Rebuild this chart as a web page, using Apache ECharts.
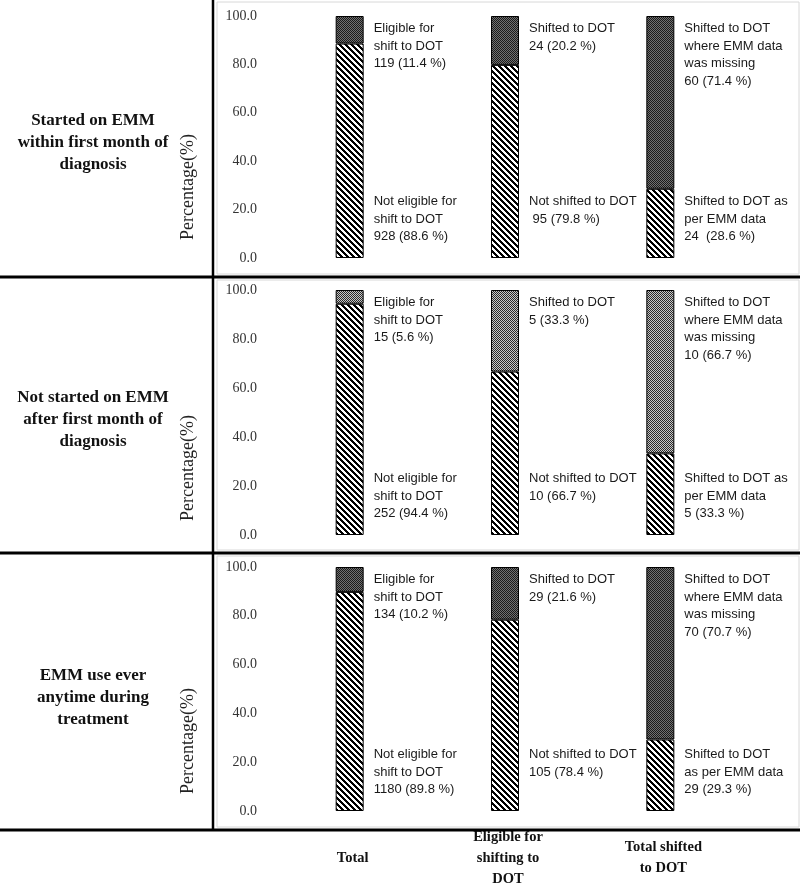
<!DOCTYPE html>
<html><head><meta charset="utf-8">
<script src="https://cdn.jsdelivr.net/npm/echarts@6/dist/echarts.min.js"></script>
<style>html,body{margin:0;padding:0;background:#fff}#c{width:800px;height:883px}</style>
</head><body><div id="c"></div>
<script>
// ---------- data ----------
var categories = ['Total', 'Eligible for\nshifting to\nDOT', 'Total shifted\nto DOT'];
var rowTitles = [
  'Started on EMM\nwithin first month of\ndiagnosis',
  'Not started on EMM\nafter first month of\ndiagnosis',
  'EMM use ever\nanytime during\ntreatment'
];
var yTicks = [0, 20, 40, 60, 80, 100];

var p1Lower = [88.6, 79.8, 28.6];
var p1Upper = [11.4, 20.2, 71.4];
var p1LowerText = ['Not eligible for\nshift to DOT\n928 (88.6 %)', 'Not shifted to DOT\n 95 (79.8 %)', 'Shifted to DOT as\nper EMM data\n24  (28.6 %)'];
var p1UpperText = ['Eligible for\nshift to DOT\n119 (11.4 %)', 'Shifted to DOT\n24 (20.2 %)', 'Shifted to DOT\nwhere EMM data\nwas missing\n60 (71.4 %)'];

var p2Lower = [94.4, 66.7, 33.3];
var p2Upper = [5.6, 33.3, 66.7];
var p2LowerText = ['Not eligible for\nshift to DOT\n252 (94.4 %)', 'Not shifted to DOT\n10 (66.7 %)', 'Shifted to DOT as\nper EMM data\n5 (33.3 %)'];
var p2UpperText = ['Eligible for\nshift to DOT\n15 (5.6 %)', 'Shifted to DOT\n5 (33.3 %)', 'Shifted to DOT\nwhere EMM data\nwas missing\n10 (66.7 %)'];

var p3Lower = [89.8, 78.4, 29.3];
var p3Upper = [10.2, 21.6, 70.7];
var p3LowerText = ['Not eligible for\nshift to DOT\n1180 (89.8 %)', 'Not shifted to DOT\n105 (78.4 %)', 'Shifted to DOT\nas per EMM data\n29 (29.3 %)'];
var p3UpperText = ['Eligible for\nshift to DOT\n134 (10.2 %)', 'Shifted to DOT\n29 (21.6 %)', 'Shifted to DOT\nwhere EMM data\nwas missing\n70 (70.7 %)'];

// ---------- patterns ----------
function hatch() {
  var s = 12, c = document.createElement('canvas');
  c.width = s; c.height = s;
  var g = c.getContext('2d');
  var img = g.createImageData(s, s);
  for (var y = 0; y < s; y++) for (var x = 0; x < s; x++) {
    var m = ((x - y) % 6 + 6) % 6;
    var v = (m < 3) ? 0 : 255;
    var o = (y * s + x) * 4;
    img.data[o] = v; img.data[o + 1] = v; img.data[o + 2] = v; img.data[o + 3] = 255;
  }
  g.putImageData(img, 0, 0);
  return c;
}
function stipple(a, b) {
  var c = document.createElement('canvas');
  c.width = 2; c.height = 2;
  var g = c.getContext('2d');
  g.fillStyle = a; g.fillRect(0, 0, 1, 1); g.fillRect(1, 1, 1, 1);
  g.fillStyle = b; g.fillRect(1, 0, 1, 1); g.fillRect(0, 1, 1, 1);
  return c;
}
var hatchPat = { image: hatch(), repeat: 'repeat' };
var darkPat = { image: stipple('#1a1a1a', '#707070'), repeat: 'repeat' };
var lightPat = { image: stipple('#2a2a2a', '#c8c8c8'), repeat: 'repeat' };

// ---------- layout ----------
var gridTops = [16, 290, 567];
var gridHeights = [242, 245, 244];
var panels = [
  { lower: p1Lower, upper: p1Upper, lt: p1LowerText, ut: p1UpperText, pat: darkPat },
  { lower: p2Lower, upper: p2Upper, lt: p2LowerText, ut: p2UpperText, pat: lightPat },
  { lower: p3Lower, upper: p3Upper, lt: p3LowerText, ut: p3UpperText, pat: darkPat }
];
var barFont = 'Liberation Sans';
var labelStyle = { fontFamily: barFont, fontSize: 13, color: '#1a1a1a', lineHeight: 17.5, align: 'left' };

var grids = [], xAxes = [], yAxes = [], series = [];
panels.forEach(function (p, i) {
  grids.push({ left: 272, width: 466, top: gridTops[i], height: gridHeights[i], outerBoundsMode: 'none', containLabel: false });
  xAxes.push({
    type: 'category', gridIndex: i, data: categories,
    axisLine: { show: false }, axisTick: { show: false },
    axisLabel: i === 2 ? {
      show: true, interval: 0, margin: 47, fontFamily: 'Liberation Serif', fontWeight: 'bold',
      fontSize: 14.5, color: '#111', lineHeight: 21, verticalAlign: 'middle', padding: [0, 0, 0, 6]
    } : { show: false }
  });
  yAxes.push({
    type: 'value', gridIndex: i, min: 0, max: 100, interval: 20,
    axisLine: { show: false }, axisTick: { show: false }, splitLine: { show: false },
    axisLabel: { margin: 15, fontFamily: 'Liberation Serif', fontSize: 14, color: '#333',
      formatter: function (v) { return v.toFixed(1); } }
  });
  series.push({
    type: 'bar', stack: 's' + i, xAxisIndex: i, yAxisIndex: i, barWidth: 28,
    data: p.lower,
    itemStyle: { color: hatchPat, borderColor: '#000', borderWidth: 1 },
    label: Object.assign({ show: true, position: [38, '100%'], offset: [0, -65], verticalAlign: 'top',
      formatter: function (d) { return p.lt[d.dataIndex]; } }, labelStyle)
  });
  series.push({
    type: 'bar', stack: 's' + i, xAxisIndex: i, yAxisIndex: i, barWidth: 28,
    data: p.upper,
    itemStyle: { color: p.pat, borderColor: '#000', borderWidth: 1 },
    label: Object.assign({ show: true, position: [38, 4], verticalAlign: 'top',
      formatter: function (d) { return p.ut[d.dataIndex]; } }, labelStyle)
  });
});

var graphic = [];
// faint panel frames
[[2, 274], [280, 550], [556, 827]].forEach(function (r) {
  graphic.push({ type: 'rect', shape: { x: 217, y: r[0], width: 582, height: r[1] - r[0] },
    style: { fill: 'none', stroke: '#d8d8d8', lineWidth: 1 }, z: 1 });
});
// separators
[277, 553, 830].forEach(function (y) {
  graphic.push({ type: 'line', shape: { x1: 0, y1: y, x2: 800, y2: y }, style: { stroke: '#000', lineWidth: 2.8 }, z: 10 });
});
graphic.push({ type: 'line', shape: { x1: 213, y1: 0, x2: 213, y2: 831 }, style: { stroke: '#000', lineWidth: 2.5 }, z: 10 });
// row titles and axis titles
var titleY = [143, 420, 698];
var pctY = [187, 468, 741];
rowTitles.forEach(function (t, i) {
  graphic.push({ type: 'text', x: 93, y: titleY[i], style: { text: t, font: 'bold 17px "Liberation Serif"',
    fill: '#111', align: 'center', verticalAlign: 'middle', lineHeight: 22 } });
  graphic.push({ type: 'text', x: 188, y: pctY[i], rotation: Math.PI / 2,
    style: { text: 'Percentage(%)', font: '18px "Liberation Serif"', fill: '#222', align: 'center', verticalAlign: 'middle' } });
});

var chart = echarts.init(document.getElementById('c'), null, { renderer: 'canvas' });
chart.setOption({
  animation: false,
  grid: grids, xAxis: xAxes, yAxis: yAxes, series: series, graphic: graphic
});
</script></body></html>
